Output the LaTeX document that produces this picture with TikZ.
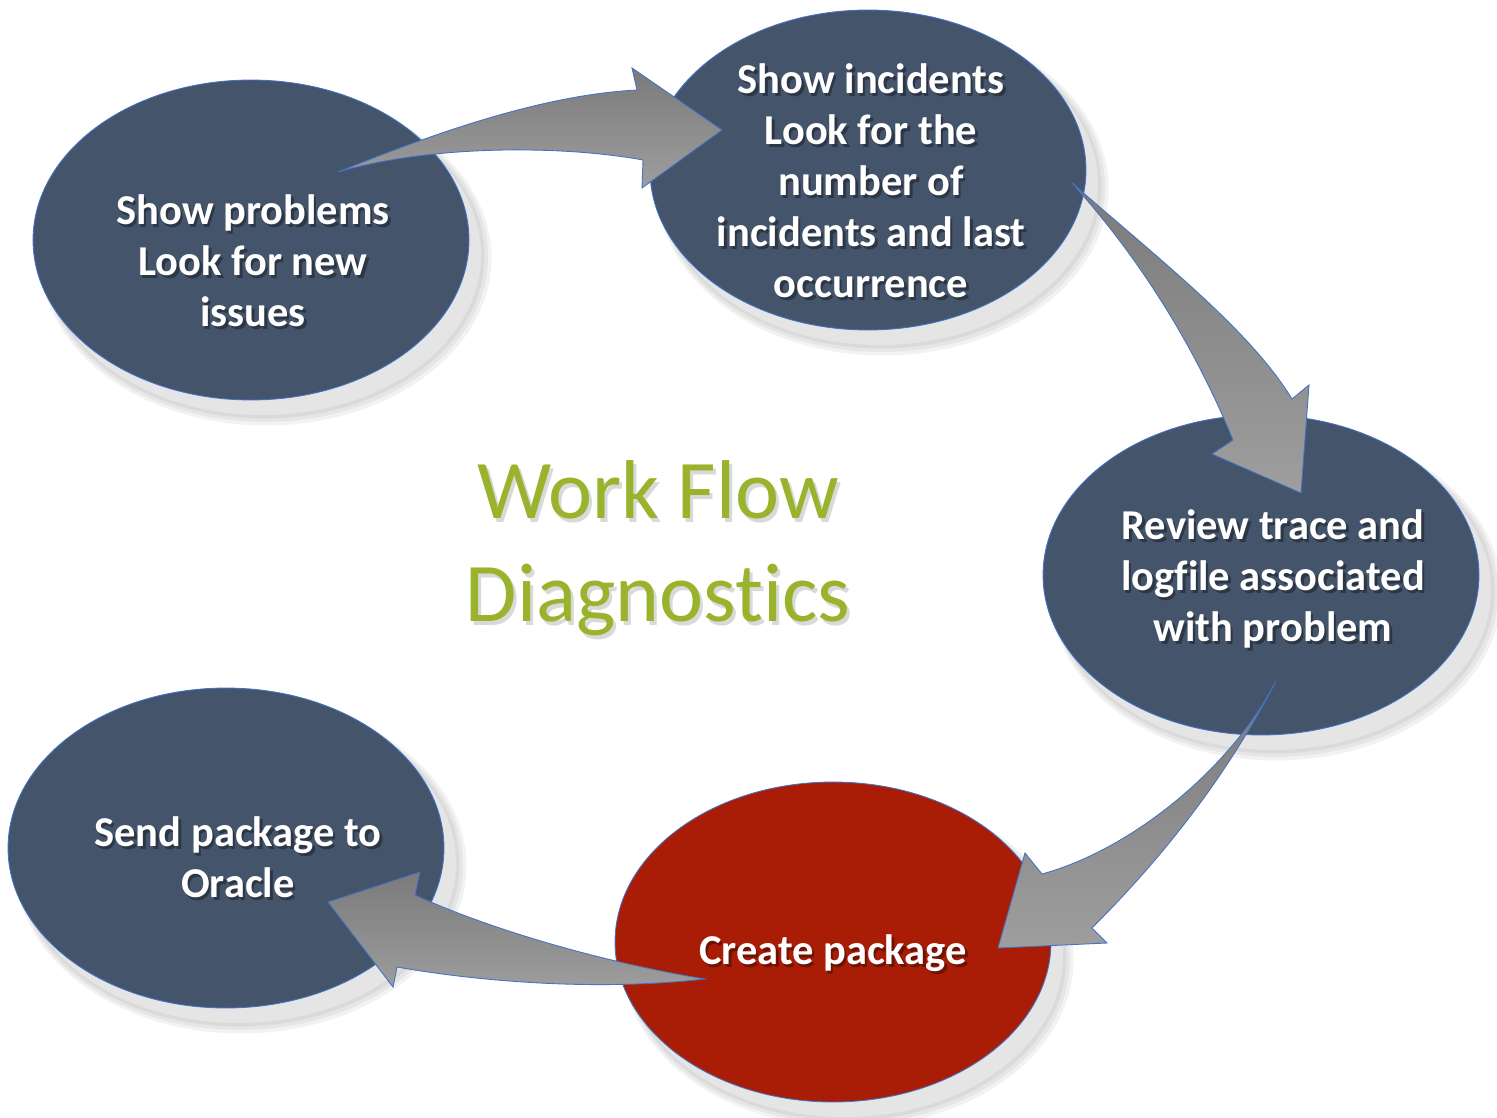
\documentclass[tikz,border=0pt]{standalone}
\usepackage{fontspec}
\setmainfont{Carlito}[Ligatures=NoCommon]
\usetikzlibrary{shapes}

\definecolor{slate}{HTML}{44546A}
\definecolor{brick}{HTML}{A91C05}
\definecolor{rim}{HTML}{4472C4}
\definecolor{olive}{HTML}{9AB32C}
\definecolor{halo}{HTML}{E5E5E5}

\tikzset{
  bubble/.style={ellipse,draw=rim,line width=0.5pt,inner sep=0pt,minimum width=8.72cm,minimum height=6.4cm},
  halo/.style={ellipse,fill=halo,inner sep=0pt,minimum width=8.72cm,minimum height=6.4cm},
  words/.style={text=white,align=center,font=\bfseries\fontsize{24.2}{29}\selectfont},
  bendarrow/.style={draw=rim,line width=0.5pt,shading angle=#1,top color=black!52,bottom color=black!38},
  headline/.style={text=olive,align=center,font=\fontsize{47.5}{58.5}\selectfont}
}

% text with a soft dark copy behind it
\newcommand\bubbletext[3]{%
  \node[words,text=black,opacity=0.35,xshift=0.05cm,yshift=-0.06cm] at (#1) {#3};
  \node[words] (#2) at (#1) {#3};}

\begin{document}
\begin{tikzpicture}[x=0.02cm,y=-0.02cm]
\useasboundingbox (0,0) rectangle (1497,1118);

% shadows first
\foreach \n/\x/\y in {probs/251/240,incid/868/170,review/1261/575,pack/833/942,send/226/848}{
  \foreach \k in {1,2,3}
    \node[ellipse,fill=black,opacity=0.05,inner sep=0pt,minimum width=8.72cm+\k*0.1cm,minimum height=6.4cm+\k*0.1cm] at (\x+12+\k,\y+15+\k) {};
  \node[halo] at (\x+12,\y+15) {};
}

\node[bubble,fill=slate] (probs) at (251,240) {};
\node[bubble,fill=slate] (incid) at (868,170) {};
\node[bubble,fill=slate] (review) at (1261,575) {};
\node[bubble,fill=brick] (pack) at (833,942) {};
\node[bubble,fill=slate] (send) at (226,848) {};

% block arrows
\path[bendarrow=0] (338,172) .. controls (430,135) and (540,95) .. (637,90) -- (632,68) -- (722,130) -- (642,188)
  -- (643,160) .. controls (560,145) and (430,145) .. (338,172) -- cycle;
\path[bendarrow=-60] (1072,183) .. controls (1160,260) and (1250,330) .. (1292,399) -- (1309,385) -- (1301,493) -- (1212,454)
  -- (1233,440) .. controls (1200,360) and (1150,270) .. (1072,183) -- cycle;
\path[bendarrow=210] (1276,681) .. controls (1230,770) and (1130,850) .. (1042,874) -- (1025,853) -- (998,948) -- (1107,943)
  -- (1092,928) .. controls (1170,850) and (1230,770) .. (1276,681) -- cycle;
\path[bendarrow=180] (705,979) .. controls (590,960) and (480,925) .. (415,895) -- (420,872) -- (328,902) -- (393,987)
  -- (397,967) .. controls (470,980) and (590,992) .. (705,979) -- cycle;

\bubbletext{[shift={(2,21)}]probs}{probs-t}{Show problems\\Look for new\\issues}
\bubbletext{[shift={(3,11)}]incid}{incid-t}{Show incidents\\Look for the\\number of\\incidents and last\\occurrence}
\bubbletext{[shift={(12,4)}]review}{review-t}{Review trace and\\logfile associated\\with problem}
\bubbletext{[shift={(0,11)}]pack}{pack-t}{Create package}
\bubbletext{[shift={(12,9)}]send}{send-t}{Send package to\\Oracle}

\node[headline,text=black,opacity=0.15,xshift=0.06cm,yshift=-0.08cm] at (658,548) {Work Flow\\Diagnostics};
\node[headline] (title) at (658,548) {Work Flow\\Diagnostics};
\end{tikzpicture}
\end{document}
